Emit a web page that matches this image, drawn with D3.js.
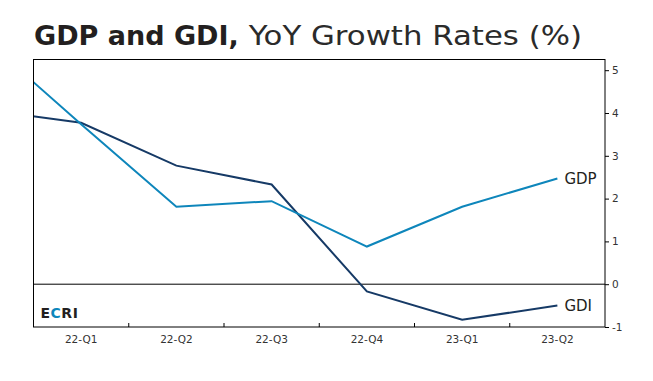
<!DOCTYPE html>
<html>
<head>
<meta charset="utf-8">
<script src="https://cdn.jsdelivr.net/npm/d3@7"></script>
<style>
  body { margin: 0; background: #fff; }
  svg { display: block; }
</style>
</head>
<body>
<svg id="chart" width="653" height="381"></svg>
<script>
// quarters: 21-Q4 sits off the left edge, lines get clipped there
var quarters = ["21-Q4", "22-Q1", "22-Q2", "22-Q3", "22-Q4", "23-Q1", "23-Q2"];
var gdp = [5.7, 3.74, 1.81, 1.94, 0.88, 1.81, 2.47];
var gdi = [4.07, 3.77, 2.77, 2.33, -0.17, -0.83, -0.5];
var yTicks = [-1, 0, 1, 2, 3, 4, 5];

var svg = d3.select("#chart");
var margin = {top: 59.5, right: 48, bottom: 54, left: 33.5};
var W = 653, H = 381;
var width = W - margin.left - margin.right;
var height = H - margin.top - margin.bottom;
var font = "'DejaVu Sans', sans-serif";
var ink = "#231f20";

// title: bold lead + lighter remainder, the remainder stretched to the original span
var lead = svg.append("text")
  .attr("x", 34).attr("y", 45)
  .attr("font-family", font).attr("font-size", 27).attr("font-weight", "bold")
  .attr("fill", ink)
  .text("GDP and GDI,");
var leadEnd = 34 + lead.node().getComputedTextLength();
svg.append("text")
  .attr("x", leadEnd + 10).attr("y", 45)
  .attr("font-family", font).attr("font-size", 27)
  .attr("fill", "#2b2b2b")
  .attr("textLength", 582 - leadEnd - 10)
  .attr("lengthAdjust", "spacingAndGlyphs")
  .text("YoY Growth Rates (%)");

var g = svg.append("g").attr("transform", "translate(" + margin.left + "," + margin.top + ")");

var step = width / (quarters.length - 1);
var x = d3.scaleBand()
  .domain(quarters)
  .range([-step, width]);

var y = d3.scaleLinear()
  .domain([-1, 5.25])
  .range([height, 0]);

svg.append("clipPath").attr("id", "plot-clip")
  .append("rect").attr("width", width).attr("height", height);

// zero line
g.append("line")
  .attr("x1", 0).attr("x2", width)
  .attr("y1", y(0)).attr("y2", y(0))
  .attr("stroke", "#000").attr("stroke-width", 1);

var line = d3.line()
  .x(function(d, i) { return x(quarters[i]) + x.bandwidth() / 2; })
  .y(function(d) { return y(d); });

var lines = g.append("g").attr("clip-path", "url(#plot-clip)");
lines.append("path").datum(gdi)
  .attr("d", line).attr("fill", "none")
  .attr("stroke", "#163a66").attr("stroke-width", 2);
lines.append("path").datum(gdp)
  .attr("d", line).attr("fill", "none")
  .attr("stroke", "#0e86bb").attr("stroke-width", 2);

// box
g.append("rect")
  .attr("width", width).attr("height", height)
  .attr("fill", "none").attr("stroke", "#000").attr("stroke-width", 1);

// x axis labels
var xAxis = g.append("g")
  .attr("transform", "translate(0," + height + ")")
  .call(d3.axisBottom(x).tickValues(quarters.slice(1)).tickSize(0).tickPadding(9));
xAxis.select(".domain").remove();
xAxis.selectAll("text")
  .attr("font-family", font).attr("font-size", 10.5).attr("fill", "#333");

// ticks between quarters, pointing inward
g.append("g").selectAll("line")
  .data(quarters.slice(2))
  .enter().append("line")
  .attr("x1", function(d) { return x(d); })
  .attr("x2", function(d) { return x(d); })
  .attr("y1", height).attr("y2", height - 4)
  .attr("stroke", "#000");

// right y axis
var yAxis = g.append("g")
  .attr("transform", "translate(" + width + ",0)")
  .call(d3.axisRight(y).tickValues(yTicks).tickFormat(function(d) { return String(d); })
    .tickSize(4).tickPadding(3));
yAxis.select(".domain").remove();
yAxis.selectAll("line").attr("stroke", "#000");
yAxis.selectAll("text")
  .attr("font-family", font).attr("font-size", 10.5).attr("fill", "#333");

// series labels
var last = quarters.length - 1;
[["GDP", gdp], ["GDI", gdi]].forEach(function(s) {
  g.append("text")
    .attr("x", x(quarters[last]) + x.bandwidth() / 2 + 7)
    .attr("y", y(s[1][last]))
    .attr("dy", "0.36em")
    .attr("font-family", font).attr("font-size", 15).attr("fill", ink)
    .text(s[0]);
});

// ECRI mark
var logo = g.append("text")
  .attr("x", 7).attr("y", height - 9.5)
  .attr("font-family", font).attr("font-size", 14).attr("font-weight", "bold")
  .attr("letter-spacing", 0.5)
  .attr("fill", ink);
logo.append("tspan").text("E");
logo.append("tspan").attr("fill", "#0e86bb").text("C");
logo.append("tspan").text("RI");
</script>
</body>
</html>
